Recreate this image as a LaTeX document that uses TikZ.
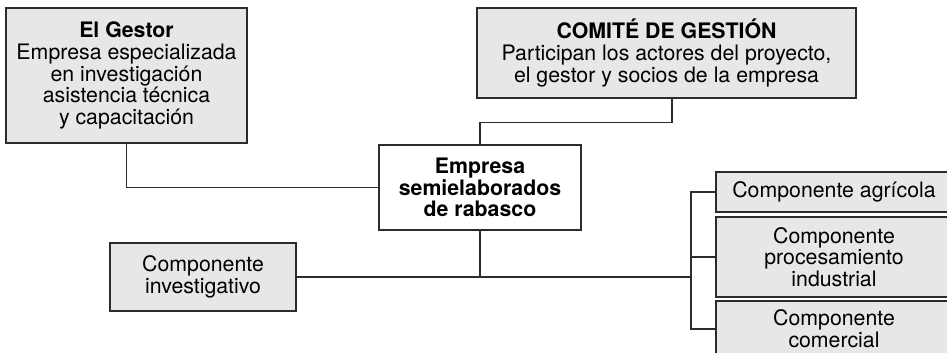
\documentclass[tikz,border=0pt]{standalone}
\usepackage{fontspec}
\setmainfont{TeX Gyre Heros}
\usepackage{tikz}
\definecolor{grisclaro}{HTML}{E6E7E8}
\definecolor{trazo}{HTML}{2E2B2C}

\begin{document}
\begin{tikzpicture}[x=1bp,y=-1bp,
	caja/.style={draw=trazo,line width=1.3bp,fill=grisclaro,align=center,inner sep=0pt,
		font=\fontsize{21.3bp}{21.7bp}\selectfont}]
	\useasboundingbox (0,0) rectangle (947,352);
	\begin{scope}[every node/.style={caja}]
		\node[minimum width=241bp,minimum height=135bp] (gestor) at (126.5,75.5) {\textbf{El Gestor}\\Empresa especializada\\en investigación\\asistencia técnica\\y capacitación};
		\node[minimum width=379bp,minimum height=90bp] (comite) at (666.5,53) {\textbf{COMITÉ DE GESTIÓN}\\Participan los actores del proyecto,\\el gestor y socios de la empresa};
		\node[fill=white,minimum width=202bp,minimum height=85bp] (empresa) at (480,187.5) {\textbf{Empresa}\\\textbf{semielaborados}\\\textbf{de rabasco}};
		\node[minimum width=186bp,minimum height=68bp] (invest) at (203,277) {Componente\\investigativo};
		\node[minimum width=236bp,minimum height=40bp] (agricola) at (834,192) {Componente agrícola};
		\node[minimum width=236bp,minimum height=80bp] (procesa) at (834,257) {Componente\\procesamiento\\industrial};
		\node[minimum width=236bp,minimum height=56bp] (comercial) at (834,329) {Componente\\comercial};
	\end{scope}

	\begin{scope}[draw=trazo,line width=1.3bp]
		\coordinate (rama) at (691,277);
		\draw (gestor.south) |- (empresa.west);
		\draw ([xshift=5.5bp]comite.south) -- ++(0,24) -| (empresa.north);
		\draw (empresa.south) -- (empresa.south |- rama);
		\draw (invest.east) -- (rama);
		\draw (agricola.west) -| (rama) |- (comercial.west);
		\draw (procesa.west) -- (procesa.west -| rama);
	\end{scope}
\end{tikzpicture}
\end{document}
